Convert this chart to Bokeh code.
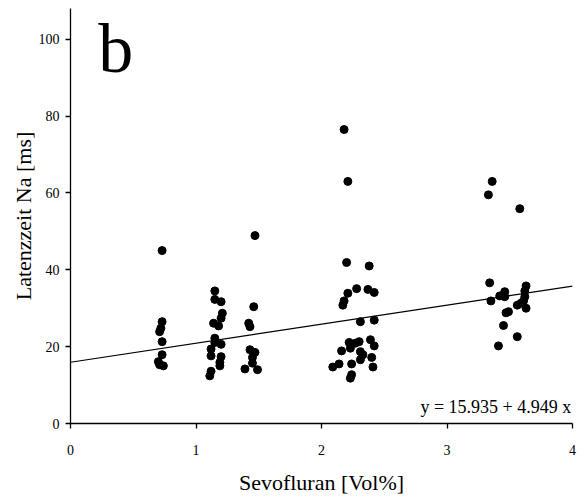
from bokeh.plotting import figure
from bokeh.models import Range1d, Label, FixedTicker
from bokeh.embed import file_html
from bokeh.resources import INLINE

# Data
sevo = [0.73, 0.73, 0.72, 0.71, 0.73, 0.73, 0.70, 0.71, 0.74,
        1.15, 1.15, 1.20, 1.21, 1.20, 1.14, 1.18, 1.15, 1.15, 1.20, 1.12, 1.12, 1.20, 1.19, 1.19, 1.12, 1.11,
        1.47, 1.46, 1.42, 1.43, 1.43, 1.47, 1.45, 1.45, 1.39, 1.49,
        2.18, 2.21, 2.20, 2.38, 2.28, 2.21, 2.37, 2.42, 2.18, 2.17, 2.31, 2.42, 2.22, 2.30, 2.27, 2.39,
        2.42, 2.23, 2.16, 2.31, 2.33, 2.40, 2.31, 2.14, 2.09, 2.24, 2.41, 2.24, 2.23,
        3.36, 3.33, 3.58, 3.34, 3.63, 3.62, 3.46, 3.42, 3.46, 3.35, 3.62, 3.61, 3.59, 3.56, 3.63,
        3.49, 3.47, 3.45, 3.56, 3.41]
latenz = [45.0, 26.5, 24.8, 23.9, 21.3, 17.9, 16.1, 15.3, 15.0,
          34.5, 32.3, 31.7, 28.7, 27.4, 26.1, 25.4, 22.2, 21.1, 20.6, 19.4, 17.6, 17.4, 15.9, 15.0, 13.6, 12.4,
          48.9, 30.4, 26.1, 25.2, 19.2, 18.5, 17.2, 15.7, 14.2, 14.0,
          76.5, 63.0, 41.9, 41.0, 35.1, 33.9, 34.9, 34.1, 31.9, 30.8, 26.5, 26.9, 21.1, 21.3, 20.9, 21.8,
          20.2, 19.6, 18.9, 18.7, 17.9, 17.2, 16.6, 15.5, 14.7, 15.5, 14.7, 12.7, 11.8,
          63.0, 59.5, 55.9, 36.6, 35.8, 34.5, 34.3, 33.2, 33.0, 31.9, 33.0, 31.9, 31.3, 30.8, 30.0,
          29.1, 28.8, 25.5, 22.6, 20.2]
intercept = 15.935
slope = 4.949
x_ticks = [0, 1, 2, 3, 4]
y_ticks = [0, 20, 40, 60, 80, 100]
x_title = "Sevofluran [Vol%]"
y_title = "Latenzzeit Na [ms]"
panel_letter = "b"

FONT = "Liberation Serif"

p = figure(width=586, height=497, output_backend="svg", toolbar_location=None,
           x_range=Range1d(0, 4), y_range=Range1d(0, 108),
           min_border_left=70, min_border_right=14, min_border_top=8, min_border_bottom=74)
p.outline_line_color = None
p.grid.grid_line_color = None
p.background_fill_color = "white"
p.border_fill_color = "white"

p.axis.axis_line_color = "black"
p.axis.axis_line_width = 1.3
p.axis.major_tick_line_color = "black"
p.axis.major_tick_line_width = 1.3
p.axis.major_tick_in = 0
p.axis.major_tick_out = 5
p.axis.minor_tick_line_color = None
p.axis.major_label_text_font = FONT
p.axis.major_label_text_font_size = "14px"
p.axis.major_label_text_color = "black"
p.axis.axis_label_text_font = FONT
p.axis.axis_label_text_font_size = "22px"
p.axis.axis_label_text_font_style = "normal"
p.axis.axis_label_text_color = "black"

p.xaxis.ticker = FixedTicker(ticks=x_ticks)
p.yaxis.ticker = FixedTicker(ticks=y_ticks)
p.xaxis.axis_label = x_title
p.yaxis.axis_label = y_title
p.xaxis.major_label_standoff = 16
p.xaxis.axis_label_standoff = 12
p.yaxis.major_label_standoff = 6
p.yaxis.axis_label_standoff = 0

p.scatter(sevo, latenz, size=8, color="black")

xs = [0, 4]
p.line(xs, [intercept + slope * v for v in xs], line_color="black", line_width=1.2)

p.add_layout(Label(x=3.99, y=4.4, text=f"y = {intercept} + {slope} x", text_align="right",
                   text_baseline="alphabetic", text_font=FONT, text_font_size="18px",
                   text_color="black"))
p.add_layout(Label(x=0.36, y=97.5, text=panel_letter, text_align="center", text_baseline="alphabetic",
                   text_font=FONT, text_font_size="70px", text_color="black"))

open("out.html", "w").write(file_html(p, INLINE))
